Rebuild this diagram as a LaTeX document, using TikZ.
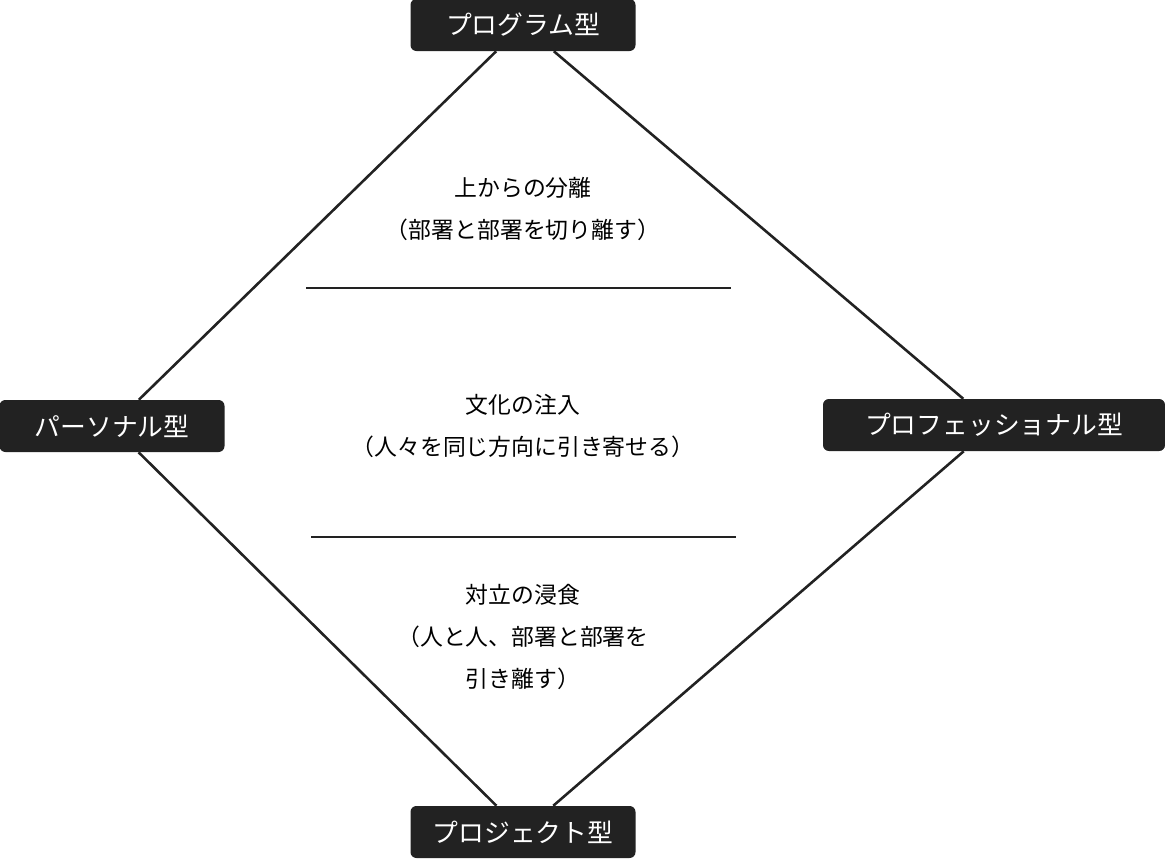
\documentclass[tikz,border=0pt]{standalone}
\usepackage{fontspec}
\setmainfont{Noto Sans CJK JP}
\definecolor{boxfill}{HTML}{222222}
\begin{document}
\begin{tikzpicture}[x=0.03cm,y=-0.03cm,
  typebox/.style={draw=none, fill=boxfill, rounded corners=5pt, text=white,
    font=\fontsize{22}{26}\selectfont, minimum height=52*0.03cm, inner xsep=10pt},
  layer/.style={align=center, font=\fontsize{19.5}{35.5}\selectfont},
  edge/.style={line width=2.2pt, draw=boxfill}]
  \useasboundingbox (0,0) rectangle (1165,858);

  \node[typebox, minimum width=225*0.03cm] (top) at (523,25) {プログラム型};
  \node[typebox, minimum width=225*0.03cm] (left) at (112,426) {パーソナル型};
  \node[typebox, minimum width=342*0.03cm] (right) at (994,425) {プロフェッショナル型};
  \node[typebox, minimum width=225*0.03cm] (bottom) at (523,832) {プロジェクト型};

  \draw[edge] (top) -- (left);
  \draw[edge] (top) -- (right);
  \draw[edge] (left) -- (bottom);
  \draw[edge] (right) -- (bottom);

  \coordinate (a1) at (306,288);
  \coordinate (a2) at (731,288);
  \coordinate (b1) at (311,537);
  \coordinate (b2) at (736,537);
  \draw[edge] (a1) -- (a2);
  \draw[edge] (b1) -- (b2);

  \node[layer] (split) at (523,209) {上からの分離\\（部署と部署を切り離す）};
  \node[layer] (culture) at (523,426) {文化の注入\\（人々を同じ方向に引き寄せる）};
  \node[layer] (conflict) at (523,637) {対立の浸食\\（人と人、部署と部署を\\引き離す）};
\end{tikzpicture}
\end{document}
